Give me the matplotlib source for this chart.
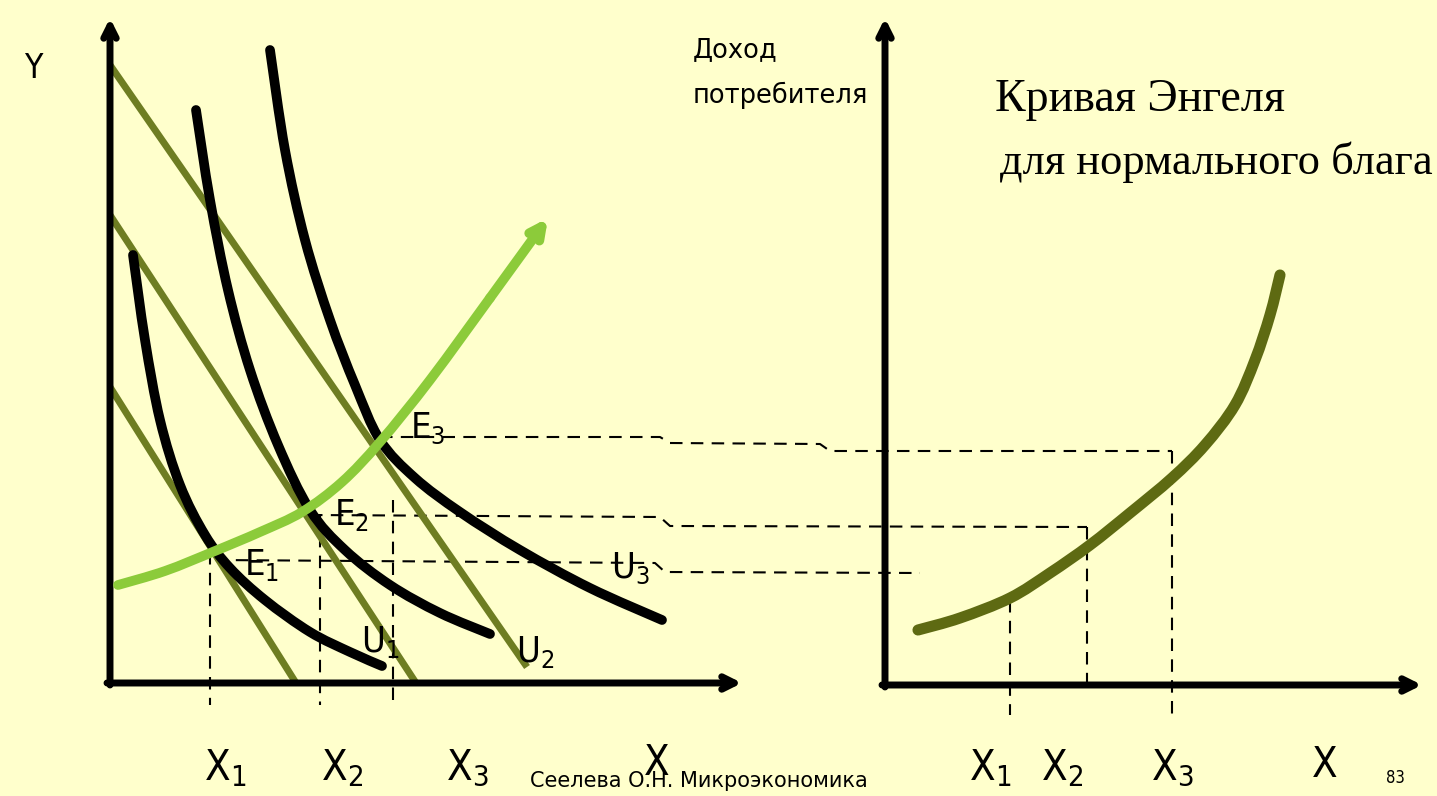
import numpy as np
import matplotlib.pyplot as plt
from matplotlib.path import Path
from matplotlib.patches import PathPatch

# picture coordinates (pixels, y down)
budget1 = [(110, 387), (296, 683)]
budget2 = [(110, 215), (416, 683)]
budget3 = [(110, 65), (527, 667)]

u1 = [(133, 255), (145, 340), (160, 420), (180, 485), (205, 535), (230, 568), (265, 600), (310, 632), (350, 652), (382, 666)]
u2 = [(196, 110), (210, 200), (228, 290), (250, 370), (278, 445), (310, 510), (345, 550), (390, 585), (440, 613), (490, 634)]
u3 = [(270, 50), (285, 150), (305, 240), (330, 320), (355, 385), (380, 440), (415, 478), (460, 512), (520, 550), (590, 588), (662, 620)]

path = [(118, 585), (165, 571), (215, 551), (260, 532), (302, 512), (342, 482), (380, 442), (430, 380), (490, 298), (548, 218)]

engel = [(918, 630), (960, 618), (1010, 598), (1050, 573), (1090, 545), (1130, 513), (1172, 478), (1205, 445), (1235, 405), (1255, 360), (1270, 315), (1280, 275)]

# dashed guides
h1 = [(215, 560), (655, 563), (665, 572), (920, 573)]
h2 = [(310, 515), (660, 517), (670, 526), (1087, 527)]
h3 = [(380, 437), (660, 437), (670, 443), (820, 444), (830, 451), (1172, 451)]
v_left = [(210, 552, 705), (320, 514, 705), (393, 500, 705)]
v_right = [(1010, 600, 715), (1087, 527, 690), (1172, 451, 715)]

bg = '#FFFFCC'
olive = '#6E7D22'
green = '#8CCB3A'
engel_c = '#5E6A12'

fig = plt.figure(figsize=(14.37, 7.96), dpi=100, facecolor=bg)
ax = fig.add_axes([0, 0, 1, 1])
ax.set_xlim(0, 1437)
ax.set_ylim(796, 0)
ax.axis('off')
ax.set_facecolor(bg)

def pts(p):
    a = np.array(p, dtype=float)
    return a[:, 0], a[:, 1]

def smooth(p, color, lw, z=3):
    # cubic bezier segments through every read point (catmull-rom handles)
    a = np.array(p, dtype=float)
    n = len(a)
    verts = [a[0]]
    codes = [Path.MOVETO]
    for i in range(n - 1):
        p0 = a[i - 1] if i > 0 else a[i]
        p3 = a[i + 2] if i + 2 < n else a[i + 1]
        c1 = a[i] + (a[i + 1] - p0) / 6
        c2 = a[i + 1] - (p3 - a[i]) / 6
        verts += [c1, c2, a[i + 1]]
        codes += [Path.CURVE4] * 3
    ax.add_patch(PathPatch(Path(verts, codes), fill=False, edgecolor=color,
                           lw=lw, capstyle='round', joinstyle='round', zorder=z))

def arrow(x0, y0, x1, y1, color='black', lw=5):
    ax.annotate('', xy=(x1, y1), xytext=(x0, y0),
                arrowprops=dict(arrowstyle='->,head_length=0.9,head_width=0.45',
                                color=color, lw=lw, shrinkA=0, shrinkB=0))

# axes
arrow(110, 685, 110, 18)
arrow(107, 683, 742, 683)
arrow(885, 687, 885, 18)
arrow(882, 685, 1422, 685)

# dashed lines
for h in (h1, h2, h3):
    x, y = pts(h)
    ax.plot(x, y, color='black', lw=1.5, ls=(0, (6, 4)))
for xv, ya, yb in v_left + v_right:
    ax.plot([xv, xv], [ya, yb], color='black', lw=1.5, ls=(0, (6, 4)))

# budget lines
for b in (budget1, budget2, budget3):
    x, y = pts(b)
    ax.plot(x, y, color=olive, lw=5, solid_capstyle='butt')

# indifference curves
for u in (u1, u2, u3):
    smooth(u, 'black', 7)

# income-consumption path
smooth(path[:-1], green, 7, z=4)
x, y = pts(path)
ax.annotate('', xy=(x[-1], y[-1]), xytext=(x[-2], y[-2]),
            arrowprops=dict(arrowstyle='->,head_length=0.9,head_width=0.45',
                            color=green, lw=7, shrinkA=0, shrinkB=0), zorder=4)

# Engel curve
smooth(engel, engel_c, 8)

lab = dict(family='DejaVu Sans', stretch='condensed', color='black')
ax.text(33, 68, 'Y', fontsize=24, ha='center', va='center', **lab)
for t, xx in [('X$_\\mathregular{1}$', 225), ('X$_\\mathregular{2}$', 342), ('X$_\\mathregular{3}$', 467),
              ('X$_\\mathregular{1}$', 990), ('X$_\\mathregular{2}$', 1062), ('X$_\\mathregular{3}$', 1172)]:
    ax.text(xx, 768, t, fontsize=30, ha='center', va='center', **lab)
ax.text(657, 763, 'X', fontsize=30, ha='center', va='center', zorder=5, **lab)
ax.text(1325, 765, 'X', fontsize=30, ha='center', va='center', **lab)

ax.text(428, 428, 'E$_\\mathregular{3}$', fontsize=26, ha='center', va='center', **lab)
ax.text(352, 515, 'E$_\\mathregular{2}$', fontsize=26, ha='center', va='center', **lab)
ax.text(262, 565, 'E$_\\mathregular{1}$', fontsize=26, ha='center', va='center', **lab)
ax.text(630, 568, 'U$_\\mathregular{3}$', fontsize=26, ha='center', va='center', **lab)
ax.text(535, 652, 'U$_\\mathregular{2}$', fontsize=26, ha='center', va='center', **lab)
ax.text(380, 642, 'U$_\\mathregular{1}$', fontsize=26, ha='center', va='center', **lab)

ax.text(530, 781, 'Сеелева О.Н. Микроэкономика', fontsize=15, ha='left', va='center',
        family='DejaVu Sans', color='black')
ax.text(1395, 778, '83', fontsize=12, ha='center', va='center', **lab)

ax.text(693, 50, 'Доход', fontsize=18.5, ha='left', va='center', family='DejaVu Sans')
ax.text(693, 95, 'потребителя', fontsize=18.5, ha='left', va='center', family='DejaVu Sans')

ax.text(995, 100, 'Кривая Энгеля', fontsize=33, ha='left', va='center', family='Liberation Serif')
ax.text(1000, 162, 'для нормального блага', fontsize=32, ha='left', va='center', family='Liberation Serif')

fig.savefig('out.png', dpi=100, facecolor=bg)
